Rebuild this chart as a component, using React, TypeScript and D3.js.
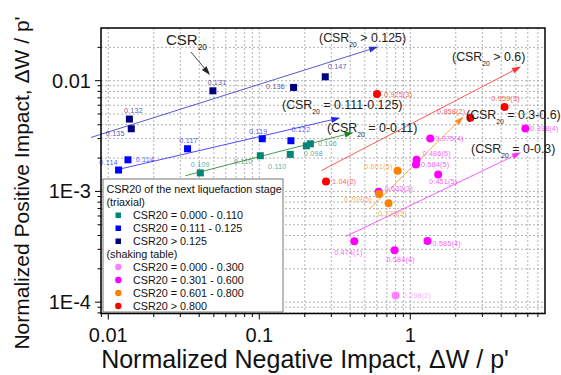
import React from 'react';
import * as d3 from 'd3';

type Pt = { x: number; y: number; label: string };

// triaxial tests (CSR20 of next stage)
const triaxialLow: Pt[] = [
    { x: 0.0407, y: 0.00147, label: '0.109' },
    { x: 0.1016, y: 0.0021, label: '0.110' },
    { x: 0.1604, y: 0.00216, label: '0.110' },
    { x: 0.218, y: 0.00269, label: '0.106' },
    { x: 0.205, y: 0.00258, label: '0.098' },
];
const triaxialMid: Pt[] = [
    { x: 0.0117, y: 0.00156, label: '0.114' },
    { x: 0.0135, y: 0.00193, label: '0.114' },
    { x: 0.0335, y: 0.00243, label: '0.117' },
    { x: 0.1047, y: 0.00299, label: '0.119' },
    { x: 0.162, y: 0.00287, label: '0.122' },
];
const triaxialHigh: Pt[] = [
    { x: 0.0138, y: 0.0045, label: '0.132' },
    { x: 0.0142, y: 0.00368, label: '0.135' },
    { x: 0.0493, y: 0.0081, label: '0.131' },
    { x: 0.1687, y: 0.00869, label: '0.136' },
    { x: 0.2735, y: 0.01084, label: '0.147' },
];

// shaking table tests
const shakeLow: Pt[] = [{ x: 0.8, y: 0.000115, label: '0.298(2)' }];
const shakeMid: Pt[] = [
    { x: 1.357, y: 0.00301, label: '0.375(4)' },
    { x: 1.1, y: 0.00193, label: '0.486(5)' },
    { x: 1.09, y: 0.00175, label: '0.584(5)' },
    { x: 1.53, y: 0.00142, label: '0.451(5)' },
    { x: 0.617, y: 0.000994, label: '0.632(3)' },
    { x: 5.78, y: 0.0037, label: '0.398(4)' },
    { x: 0.426, y: 0.000354, label: '0.474(1)' },
    { x: 0.787, y: 0.000294, label: '0.584(4)' },
    { x: 1.3, y: 0.000357, label: '0.585(4)' },
];
const shakeHigh: Pt[] = [
    { x: 0.824, y: 0.00154, label: '0.601(5)' },
    { x: 0.621, y: 0.000947, label: '0.709(5)' },
    { x: 0.718, y: 0.00078, label: '0.773(2)' },
];
const shakeTop: Pt[] = [
    { x: 0.602, y: 0.00757, label: '0.925(3)' },
    { x: 2.5, y: 0.00462, label: '0.858(2)' },
    { x: 4.21, y: 0.00578, label: '0.959(3)' },
    { x: 0.2766, y: 0.00123, label: '1.04(2)' },
];

// trend arrows: [x0, y0, x1, y1]
const trendHigh = [0.00768, 0.00307, 0.611, 0.0202];
const trendMid = [0.01142, 0.00157, 0.344, 0.00462];
const trendLow = [0.0324, 0.001386, 0.421, 0.00341];
const trendTop = [0.2574, 0.00154, 5.41, 0.01343];
const trendShakeHigh = [0.537, 0.000694, 2.25, 0.00475];
const trendShakeMid = [0.375, 0.000393, 5.41, 0.00225];

const xTicks = [0.01, 0.1, 1];
const xTickLabels = ['0.01', '0.1', '1'];
const yTicks = [0.0001, 0.001, 0.01];
const yTickLabels = ['1E-4', '1E-3', '0.01'];

const legendTitle = 'CSR20 of the next liquefaction stage';
const legendTriaxial = ['CSR20 = 0.000 - 0.110', 'CSR20 = 0.111 - 0.125', 'CSR20 > 0.125'];
const legendShaking = ['CSR20 = 0.000 - 0.300', 'CSR20 = 0.301 - 0.600', 'CSR20 = 0.601 - 0.800', 'CSR20 > 0.800'];

const W = 561;
const H = 375;
const m = { left: 101, right: 545, top: 28, bottom: 313.5 };

const x = d3.scaleLog().domain([0.00895, 7.8]).range([m.left, m.right]);
const y = d3.scaleLog().domain([7.9e-5, 0.0299]).range([m.bottom, m.top]);

const C = {
    teal: '#008577',
    blue: '#0000ff',
    navy: '#000080',
    pink: '#ff80ff',
    magenta: '#ff00ff',
    orange: '#ff8000',
    red: '#ff0000',
};

type Off = [number, number, 's' | 'm' | 'e'];
const series = [
    {
        data: triaxialLow, color: C.teal, shape: 'sq',
        off: [[0, -8, 'm'], [-17, 6, 'm'], [-13, 12, 'm'], [17, 0, 'm'], [7, 8, 'm']] as Off[],
    },
    {
        data: triaxialMid, color: C.blue, shape: 'sq',
        off: [[-10, -8, 'm'], [17, 0, 'm'], [1, -8, 'm'], [-4, -7, 'm'], [10, -11, 'm']] as Off[],
    },
    {
        data: triaxialHigh, color: C.navy, shape: 'sq',
        off: [[4, -9, 'm'], [-16, 5, 'm'], [4, -8, 'm'], [-18, -1, 'm'], [12, -10, 'm']] as Off[],
    },
    { data: shakeLow, color: C.pink, shape: 'c', off: [[7, 0, 's']] as Off[] },
    {
        data: shakeMid, color: C.magenta, shape: 'c',
        off: [[5, 0, 's'], [6, -6, 's'], [5, 0, 's'], [5, 7, 'm'], [6, -3, 's'], [5, 0, 's'], [-6, 11, 'm'], [6, 9, 'm'], [5, 3, 's']] as Off[],
    },
    {
        data: shakeHigh, color: C.orange, shape: 'c',
        off: [[-5, -4, 'e'], [-7, 5, 'e'], [4, 10, 'm']] as Off[],
    },
    {
        data: shakeTop, color: C.red, shape: 'c',
        off: [[7, 0, 's'], [-5, -6, 'e'], [1, -9, 'm'], [6, 0, 's']] as Off[],
    },
];

const trends = [
    { v: trendHigh, color: '#3030c0' },
    { v: trendMid, color: '#2020ff' },
    { v: trendLow, color: '#208020' },
    { v: trendTop, color: '#ff3030' },
    { v: trendShakeHigh, color: '#ff9020' },
    { v: trendShakeMid, color: '#ff30ff' },
];

const anchorMap = { s: 'start', m: 'middle', e: 'end' } as const;

function Arrow({ x0, y0, x1, y1, color, width = 0.8 }: any) {
    const a = Math.atan2(y1 - y0, x1 - x0);
    const len = 9;
    const hw = 3;
    const bx = x1 - len * Math.cos(a);
    const by = y1 - len * Math.sin(a);
    const px = -Math.sin(a) * hw;
    const py = Math.cos(a) * hw;
    return (
        <g>
            <line x1={x0} y1={y0} x2={bx} y2={by} stroke={color} strokeWidth={width} />
            <polygon points={`${x1},${y1} ${bx + px},${by + py} ${bx - px},${by - py}`} fill={color} />
        </g>
    );
}

// "(CSR<sub>20</sub> rest" style label
function CsrLabel({ x0, y0, pre = '(CSR', rest, size = 12.4 }: any) {
    return (
        <text x={x0} y={y0} fontSize={size} fill="#222">
            {pre}
            <tspan fontSize={size * 0.55} dy={5}>20</tspan>
            <tspan dy={-5}>{rest}</tspan>
        </text>
    );
}

export default function App() {
    const gx = x.ticks().filter((t) => t >= x.domain()[0] && t <= x.domain()[1]);
    const gy = y.ticks().filter((t) => t >= y.domain()[0] && t <= y.domain()[1]);
    const font = "Arial, 'Liberation Sans', sans-serif";

    const lgX = 103;
    const lgY = 179;
    const rows = [
        { text: legendTitle, sym: null, y: 189 },
        { text: '(triaxial)', sym: null, y: 202 },
        { text: legendTriaxial[0], sym: ['sq', C.teal], y: 215 },
        { text: legendTriaxial[1], sym: ['sq', C.blue], y: 228 },
        { text: legendTriaxial[2], sym: ['sq', C.navy], y: 241 },
        { text: '(shaking table)', sym: null, y: 254 },
        { text: legendShaking[0], sym: ['c', C.pink], y: 267 },
        { text: legendShaking[1], sym: ['c', C.magenta], y: 280 },
        { text: legendShaking[2], sym: ['c', C.orange], y: 293 },
        { text: legendShaking[3], sym: ['c', C.red], y: 306 },
    ];

    return (
        <svg width={W} height={H} style={{ position: 'absolute', left: 0, top: 0, background: '#fff' }} fontFamily={font}>
            {/* grid */}
            <g stroke="#a0a0a0" strokeWidth={0.8} strokeDasharray="2,2">
                {gx.map((t, i) => (
                    <line key={'gx' + i} x1={x(t)} x2={x(t)} y1={m.top} y2={m.bottom} />
                ))}
                {gy.map((t, i) => (
                    <line key={'gy' + i} x1={m.left} x2={m.right} y1={y(t)} y2={y(t)} />
                ))}
            </g>

            {/* ticks */}
            <g stroke="#000" strokeWidth={1}>
                {gx.map((t, i) => {
                    const major = xTicks.some((v) => Math.abs(v - t) < v * 1e-6);
                    return <line key={'tx' + i} x1={x(t)} x2={x(t)} y1={m.bottom} y2={m.bottom + (major ? 6 : 3.5)} />;
                })}
                {gy.map((t, i) => {
                    const major = yTicks.some((v) => Math.abs(v - t) < v * 1e-6);
                    return <line key={'ty' + i} x1={m.left} x2={m.left - (major ? 6 : 3.5)} y1={y(t)} y2={y(t)} />;
                })}
            </g>
            {xTicks.map((t, i) => (
                <text key={'xl' + i} x={x(t)} y={m.bottom + 28} textAnchor="middle" fontSize={20} fill="#111">
                    {xTickLabels[i]}
                </text>
            ))}
            {yTicks.map((t, i) => (
                <text key={'yl' + i} x={m.left - 10} y={y(t) + 7} textAnchor="end" fontSize={20} fill="#111">
                    {yTickLabels[i]}
                </text>
            ))}

            {/* axis titles */}
            <text x={305} y={368} textAnchor="middle" fontSize={25} fill="#111">
                Normalized Negative Impact, ΔW / p'
            </text>
            <text transform="translate(29,183) rotate(-90)" textAnchor="middle" fontSize={21} fill="#111">
                Normalized Positive Impact, ΔW / p'
            </text>

            {/* trend arrows */}
            {trends.map((t, i) => (
                <Arrow key={'tr' + i} x0={x(t.v[0])} y0={y(t.v[1])} x1={x(t.v[2])} y1={y(t.v[3])} color={t.color} />
            ))}

            {/* points */}
            {series.map((s, si) => (
                <g key={'s' + si}>
                    {s.data.map((d, i) =>
                        s.shape === 'sq' ? (
                            <rect key={i} x={x(d.x) - 3.5} y={y(d.y) - 3.5} width={7} height={7} fill={s.color} />
                        ) : (
                            <circle key={i} cx={x(d.x)} cy={y(d.y)} r={4} fill={s.color} />
                        )
                    )}
                    {s.data.map((d, i) => {
                        const o = s.off[i];
                        return (
                            <text
                                key={'l' + i}
                                x={x(d.x) + o[0]}
                                y={y(d.y) + o[1]}
                                dominantBaseline="central"
                                textAnchor={anchorMap[o[2]]}
                                fontSize={7.2}
                                letterSpacing={0.2}
                                fill={s.color}
                                fillOpacity={0.7}
                            >
                                {d.label}
                            </text>
                        );
                    })}
                </g>
            ))}

            {/* annotations */}
            <CsrLabel x0={166} y0={44.5} pre="CSR" rest="" size={15} />
            <Arrow x0={191} y0={52} x1={210} y1={75} color="#222" width={0.8} />
            <CsrLabel x0={319} y0={42} rest=" > 0.125)" />
            <CsrLabel x0={452} y0={61} rest=" > 0.6)" />
            <CsrLabel x0={282} y0={109} rest=" = 0.111-0.125)" />
            <CsrLabel x0={327} y0={132} rest=" = 0-0.11)" />
            <CsrLabel x0={466} y0={118.5} rest=" = 0.3-0.6)" />
            <CsrLabel x0={471} y0={153} rest=" = 0-0.3)" />

            {/* legend */}
            <rect x={lgX} y={lgY} width={180} height={133} fill="#fff" stroke="#777" strokeWidth={1} />
            {rows.map((r, i) => (
                <g key={'lg' + i}>
                    {r.sym &&
                        (r.sym[0] === 'sq' ? (
                            <rect x={115.5} y={r.y - 2.5} width={5.5} height={5.5} fill={r.sym[1] as string} />
                        ) : (
                            <circle cx={118.3} cy={r.y} r={3.2} fill={r.sym[1] as string} />
                        ))}
                    <text x={r.sym ? 133 : 106.5} y={r.y} dominantBaseline="central" fontSize={10.8} fill="#111">
                        {r.text}
                    </text>
                </g>
            ))}

            {/* frame */}
            <rect x={m.left} y={m.top} width={m.right - m.left} height={m.bottom - m.top} fill="none" stroke="#000" strokeWidth={1.5} />
        </svg>
    );
}
